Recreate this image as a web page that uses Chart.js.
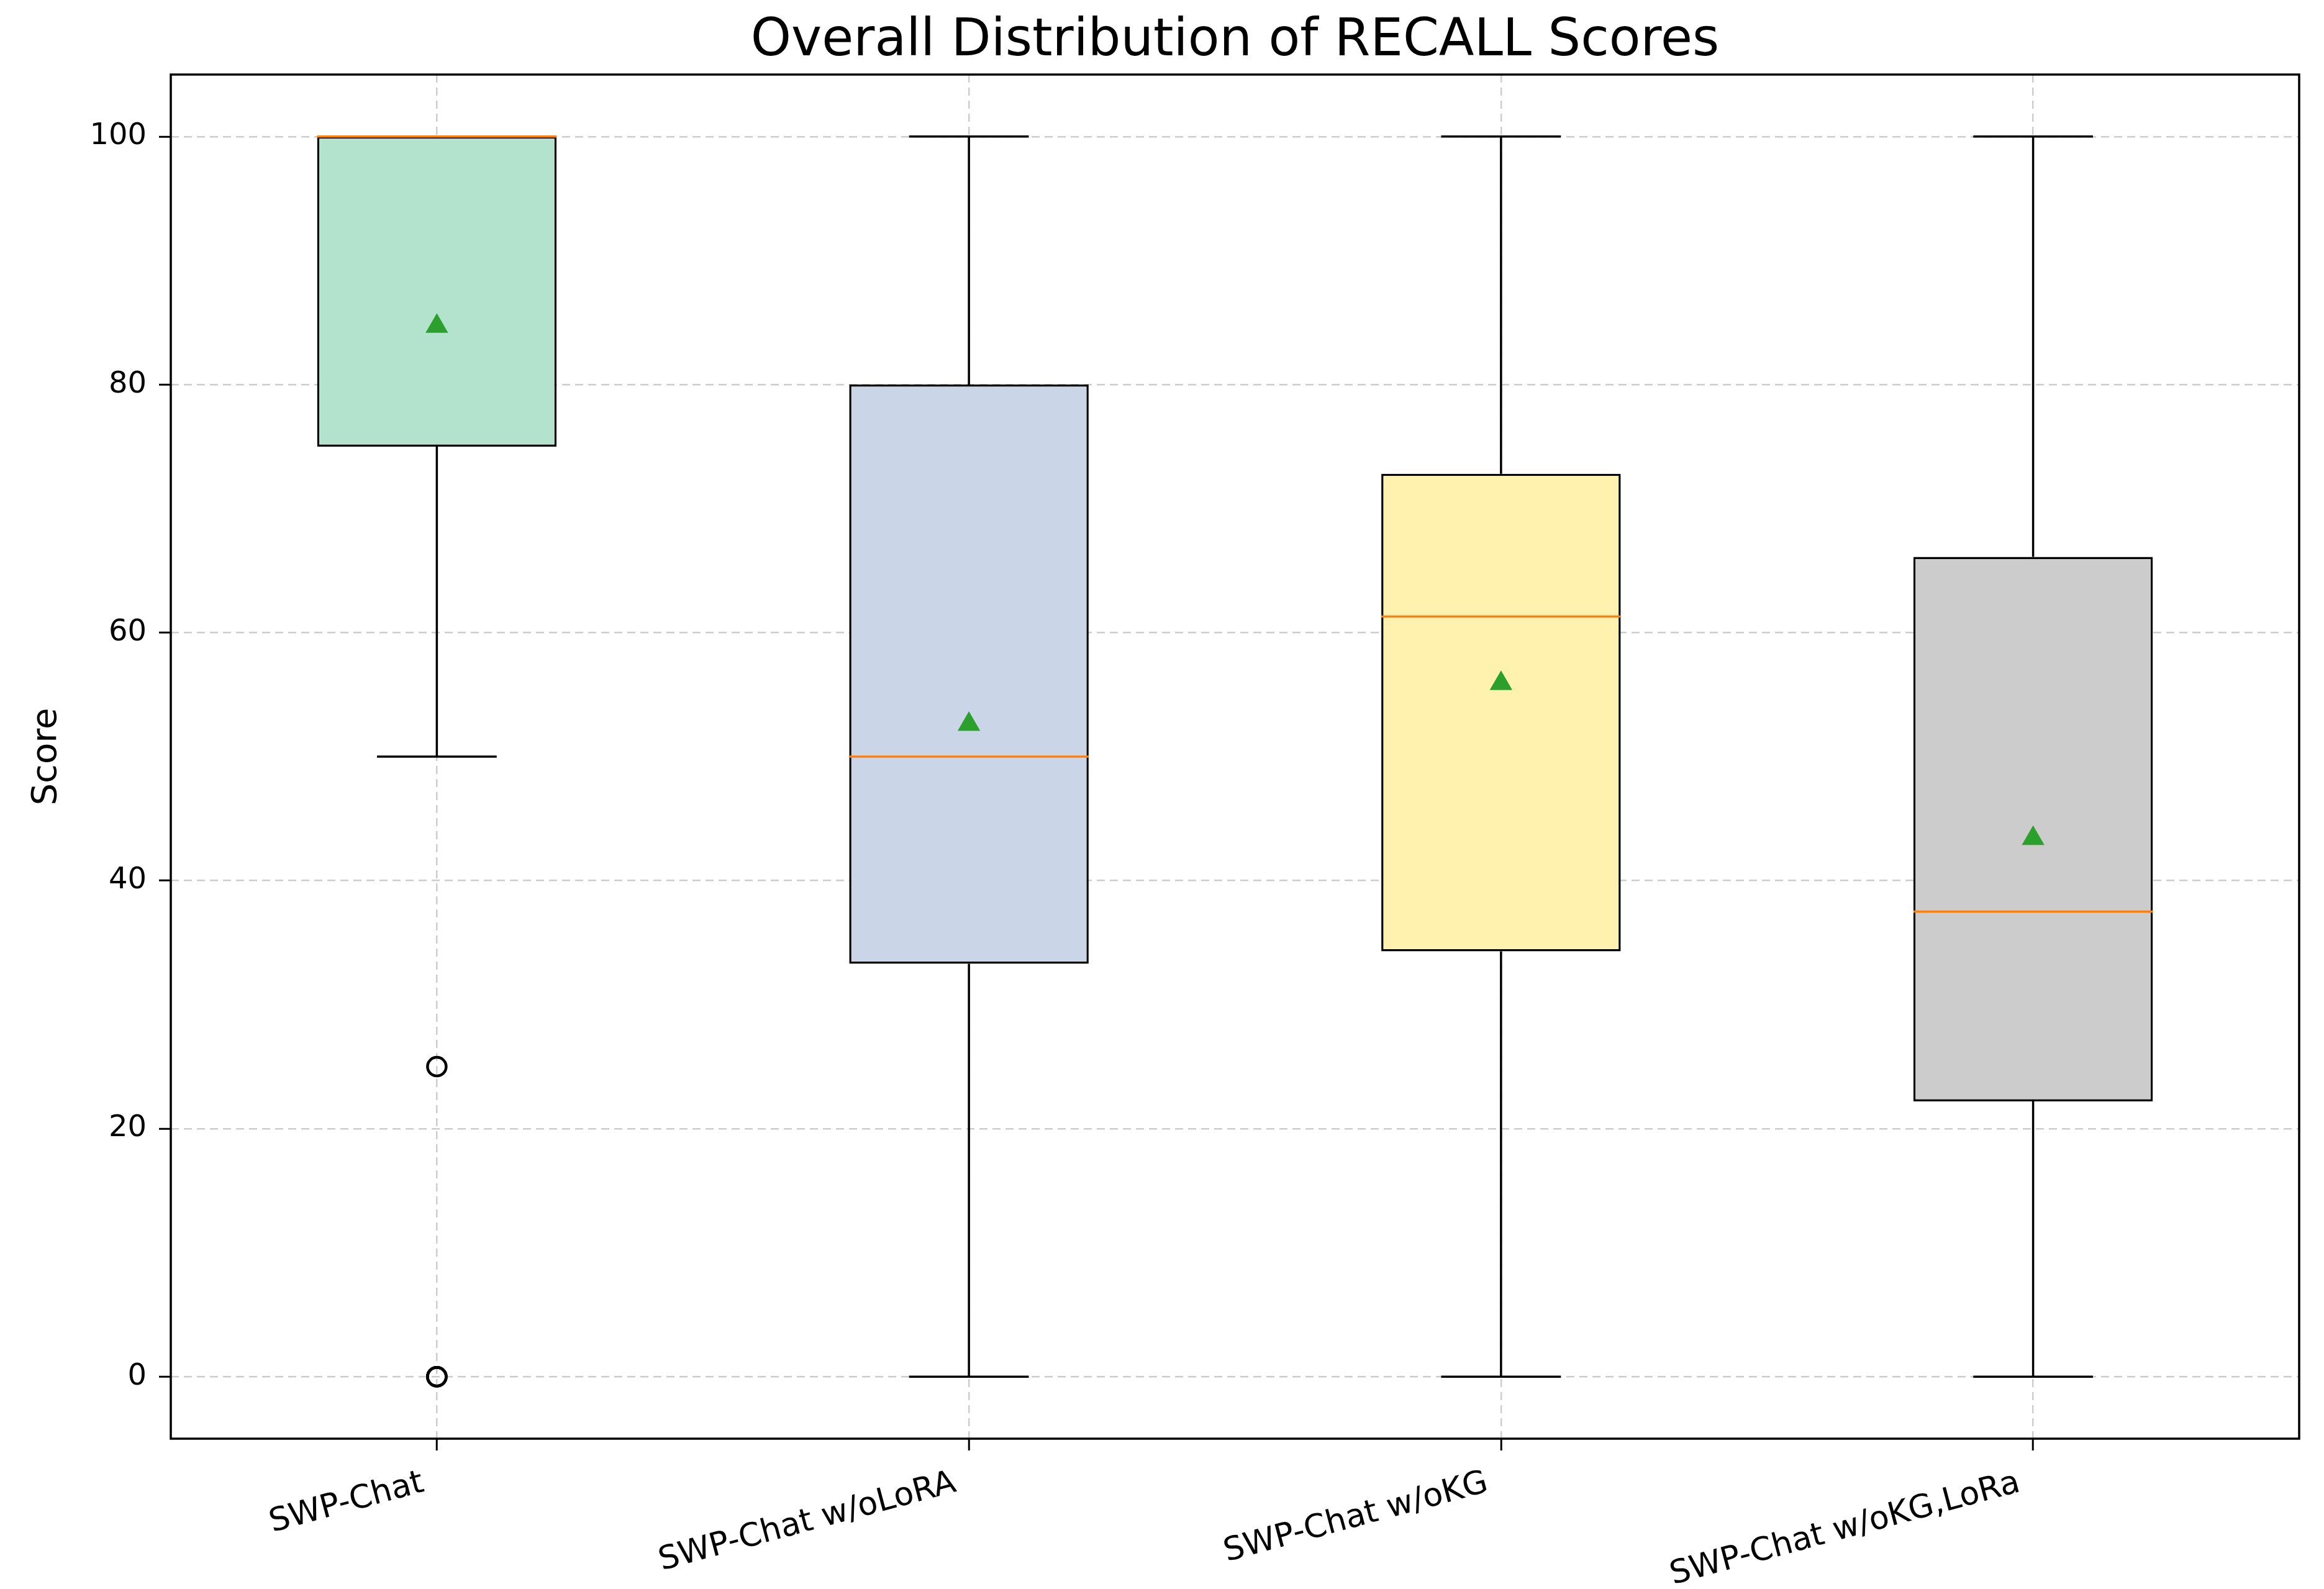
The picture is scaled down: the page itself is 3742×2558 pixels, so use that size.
<!DOCTYPE html>
<html>
<head>
<meta charset="utf-8">
<script src="https://cdn.jsdelivr.net/npm/chart.js@4.4.0/dist/chart.umd.min.js"></script>
<style>
  body { margin: 0; background: #fff; }
  #wrap { width: 3742px; height: 2558px; }
</style>
</head>
<body>
<div id="wrap"><canvas id="boxchart" width="3742" height="2558"></canvas></div>
<script>
// box plot values
var labels = ["SWP-Chat", "SWP-Chat w/oLoRA", "SWP-Chat w/oKG", "SWP-Chat w/oKG,LoRa"];
var q1 = [75, 33.3, 34.3, 22.2];
var q3 = [100, 80, 72.8, 66.1];
var medians = [100, 50, 61.3, 37.5];
var whiskerLow = [50, 0, 0, 0];
var whiskerHigh = [100, 100, 100, 100];
var means = [84.7, 52.6, 55.9, 43.4];
var outliers = [
  { x: "SWP-Chat", y: 25 },
  { x: "SWP-Chat", y: 0 },
  { x: "SWP-Chat", y: 0 },
  { x: "SWP-Chat", y: 0 }
];
var yTicks = [0, 20, 40, 60, 80, 100];
var boxColors = ["#b3e2cd", "#cbd5e8", "#fff2ae", "#cccccc"];

var FONT = "'DejaVu Sans', sans-serif";

// whiskers, caps and medians drawn through the chart scales
var boxParts = {
	id: "boxParts",
	beforeDatasetsDraw: function(chart) {
		var ctx = chart.ctx;
		var y = chart.scales.y;
		var bars = chart.getDatasetMeta(0).data;
		ctx.save();
		ctx.strokeStyle = "#000";
		ctx.lineWidth = 3.5;
		for (var i = 0; i < bars.length; i++) {
			var cx = bars[i].x;
			var half = bars[i].width / 4;
			ctx.beginPath();
			ctx.moveTo(cx, y.getPixelForValue(q3[i]));
			ctx.lineTo(cx, y.getPixelForValue(whiskerHigh[i]));
			ctx.moveTo(cx, y.getPixelForValue(q1[i]));
			ctx.lineTo(cx, y.getPixelForValue(whiskerLow[i]));
			ctx.moveTo(cx - half, y.getPixelForValue(whiskerHigh[i]));
			ctx.lineTo(cx + half, y.getPixelForValue(whiskerHigh[i]));
			ctx.moveTo(cx - half, y.getPixelForValue(whiskerLow[i]));
			ctx.lineTo(cx + half, y.getPixelForValue(whiskerLow[i]));
			ctx.stroke();
		}
		ctx.restore();
	},
	afterDatasetsDraw: function(chart) {
		var ctx = chart.ctx;
		var y = chart.scales.y;
		var bars = chart.getDatasetMeta(0).data;
		ctx.save();
		ctx.strokeStyle = "#ff7f0e";
		ctx.lineWidth = 3.5;
		for (var i = 0; i < bars.length; i++) {
			var cx = bars[i].x;
			var half = bars[i].width / 2;
			var py = y.getPixelForValue(medians[i]);
			ctx.beginPath();
			ctx.moveTo(cx - half, py);
			ctx.lineTo(cx + half, py);
			ctx.stroke();
		}
		// frame round the plot
		var a = chart.chartArea;
		ctx.strokeStyle = "#000";
		ctx.lineWidth = 3.5;
		ctx.strokeRect(a.left, a.top, a.right - a.left, a.bottom - a.top);
		ctx.restore();
	}
};

var ctx = document.getElementById("boxchart");

var chart = new Chart(ctx, {
	type: "bar",
	data: {
		labels: labels,
		datasets: [
			{
				label: "box",
				order: 3,
				data: labels.map(function(_, i) { return [q1[i], q3[i]]; }),
				backgroundColor: boxColors,
				borderColor: "#000",
				borderWidth: 3.5,
				borderSkipped: false,
				barPercentage: 0.45,
				categoryPercentage: 1
			},
			{
				type: "line",
				label: "mean",
				order: 1,
				data: means,
				showLine: false,
				pointStyle: "triangle",
				pointRadius: 21,
				pointBackgroundColor: "#2ca02c",
				pointBorderColor: "#2ca02c",
				pointBorderWidth: 0
			},
			{
				type: "line",
				label: "outliers",
				order: 2,
				data: outliers,
				showLine: false,
				pointStyle: "circle",
				pointRadius: 15,
				pointBackgroundColor: "rgba(0,0,0,0)",
				pointBorderColor: "#000",
				pointBorderWidth: 4.5
			}
		]
	},
	options: {
		responsive: false,
		devicePixelRatio: 1,
		animation: false,
		layout: { padding: { left: 0, right: 40, top: 0, bottom: 0 } },
		plugins: {
			legend: { display: false },
			tooltip: { enabled: false },
			title: {
				display: true,
				fullSize: false,
				text: "Overall Distribution of RECALL Scores",
				color: "#000",
				font: { family: FONT, size: 83, weight: "normal" },
				padding: { top: 18, bottom: 2.4 }
			}
		},
		scales: {
			x: {
				offset: true,
				afterFit: function(scale) { scale.height = 242; },
				grid: {
					offset: false,
					color: "#cdcdcd",
					lineWidth: 2.5,
					tickLength: 19,
					tickColor: "#000",
					tickWidth: 3
				},
				border: { display: false, dash: [13, 8] },
				ticks: {
					color: "#000",
					font: { family: FONT, size: 52 },
					minRotation: 15,
					maxRotation: 15,
					autoSkip: false,
					labelOffset: -22,
					padding: 22
				}
			},
			y: {
				min: -5,
				max: 105,
				afterFit: function(scale) { scale.width = 275; },
				afterBuildTicks: function(scale) {
					scale.ticks = yTicks.map(function(v) { return { value: v }; });
				},
				grid: {
					color: "#cdcdcd",
					lineWidth: 2.5,
					tickLength: 19,
					tickColor: "#000",
					tickWidth: 3
				},
				border: { display: false, dash: [13, 8] },
				ticks: {
					color: "#000",
					font: { family: FONT, size: 48 },
					padding: 20
				},
				title: {
					display: true,
					text: "Score",
					color: "#000",
					font: { family: FONT, size: 56 },
					padding: { top: 42, bottom: 0 }
				}
			}
		}
	},
	plugins: [boxParts]
});
</script>
</body>
</html>
